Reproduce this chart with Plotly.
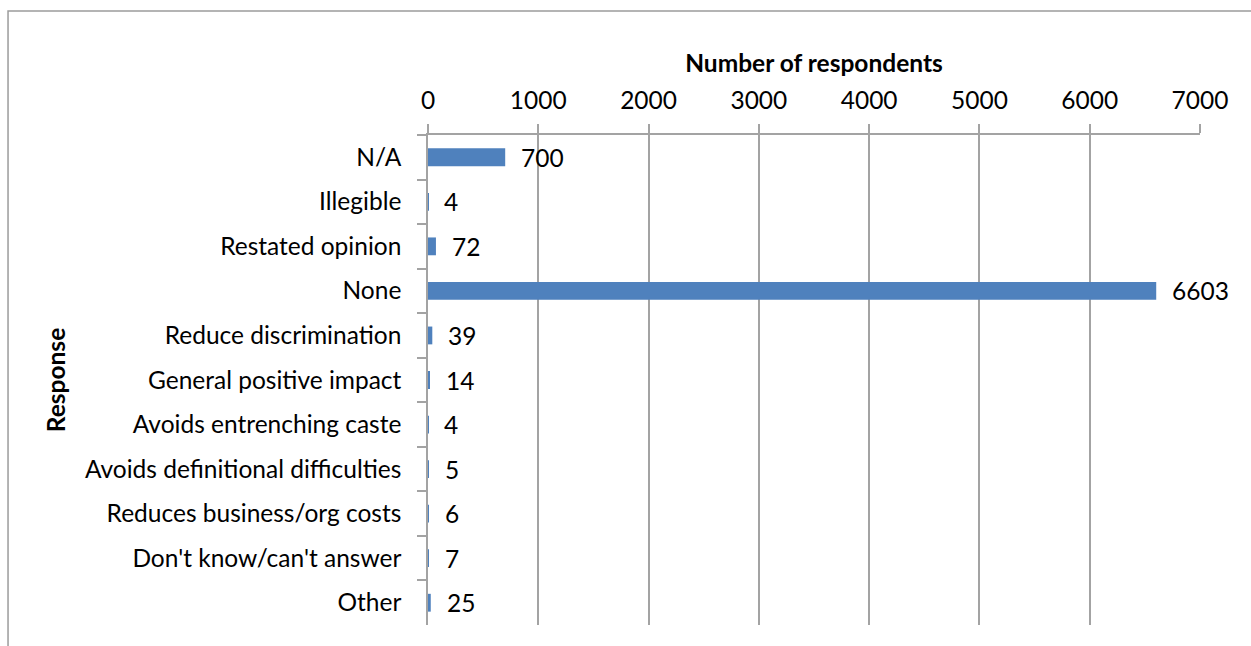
import plotly.graph_objects as go

# Survey responses and respondent counts (top to bottom)
responses = [
    "N/A",
    "Illegible",
    "Restated opinion",
    "None",
    "Reduce discrimination",
    "General positive impact",
    "Avoids entrenching caste",
    "Avoids definitional difficulties",
    "Reduces business/org costs",
    "Don't know/can't answer",
    "Other",
]
counts = [700, 4, 72, 6603, 39, 14, 4, 5, 6, 7, 25]
x_ticks = [0, 1000, 2000, 3000, 4000, 5000, 6000, 7000]

FONT = "Lato"
FS = 24.5
GRID = "#a3a3a3"
BAR = "#4f81bd"

fig = go.Figure(
    go.Bar(
        x=counts,
        y=responses,
        orientation="h",
        marker=dict(color=BAR, line=dict(width=0)),
        width=0.4,
        hoverinfo="x+y",
    )
)

# Value labels to the right of each bar
for resp, val in zip(responses, counts):
    fig.add_annotation(
        x=val, y=resp, xref="x", yref="y",
        text=str(val), showarrow=False,
        xanchor="left", yanchor="middle", xshift=14,
        font=dict(family=FONT, size=FS, color="#000000"),
    )

# Outer chart frame
fig.add_shape(
    type="rect", xref="paper", yref="paper",
    x0=-0.544, x1=1.09, y0=-0.1, y1=1.253,
    line=dict(color="#9c9c9c", width=1.5),
    fillcolor="rgba(0,0,0,0)", layer="below",
)

fig.update_layout(
    width=1251, height=646,
    margin=dict(l=428, r=51, t=135, b=21),
    paper_bgcolor="white", plot_bgcolor="white",
    showlegend=False,
    font=dict(family=FONT, size=FS, color="#000000"),
    xaxis=dict(
        side="top",
        range=[0, 7000],
        tickvals=x_ticks,
        ticktext=[str(v) for v in x_ticks],
        showgrid=True, gridcolor=GRID, gridwidth=1.5,
        showline=True, linecolor=GRID, linewidth=1.5,
        ticks="outside", ticklen=9, tickcolor=GRID, tickwidth=1.5,
        ticklabelstandoff=5,
        zeroline=False,
        title=dict(text="<b>Number of respondents</b>",
                   font=dict(family=FONT, size=FS), standoff=6),
        fixedrange=True,
    ),
    yaxis=dict(
        categoryorder="array",
        categoryarray=responses,
        autorange="reversed",
        showgrid=False,
        showline=True, linecolor=GRID, linewidth=1.5,
        ticks="outside", ticklen=9, tickcolor=GRID, tickwidth=1.5,
        tickson="boundaries",
        ticklabelstandoff=20,
        title=dict(text="<b>Response</b>",
                   font=dict(family=FONT, size=FS), standoff=12),
        fixedrange=True,
    ),
)

fig.write_html("out.html")
